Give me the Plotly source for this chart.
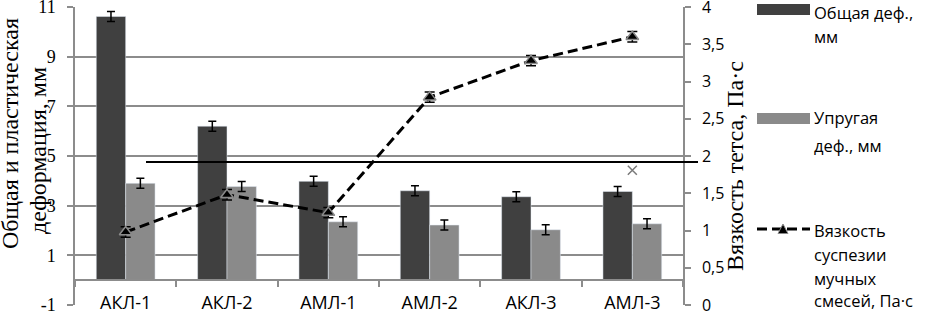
import plotly.graph_objects as go

categories = ["АКЛ-1", "АКЛ-2", "АМЛ-1", "АМЛ-2", "АКЛ-3", "АМЛ-3"]
total_def = [10.62, 6.2, 3.98, 3.6, 3.36, 3.57]
total_err = [0.2, 0.2, 0.2, 0.2, 0.2, 0.2]
elastic_def = [3.9, 3.77, 2.35, 2.22, 2.03, 2.27]
elastic_err = [0.2, 0.2, 0.2, 0.2, 0.2, 0.2]
viscosity = [0.98, 1.48, 1.24, 2.79, 3.28, 3.6]
visc_err = [0.07, 0.07, 0.07, 0.07, 0.07, 0.07]
hline_value = 1.92
x_marker_cat = ["АМЛ-3"]
x_marker_val = [1.81]

left_ticks = [-1, 1, 3, 5, 7, 9, 11]
left_ticktext = ["-1", "1", "3", "5", "7", "9", "11"]
right_ticks = [0, 0.5, 1, 1.5, 2, 2.5, 3, 3.5, 4]
right_ticktext = ["0", "0,5", "1", "1,5", "2", "2,5", "3", "3,5", "4"]

name_total = "Общая деф., мм"
name_elastic = "Упругая деф., мм"
name_visc = "Вязкость суспезии мучных смесей, Па·с"

DARK = "#404040"
LIGHT = "#8a8a8a"
GRID = "#8c8c8c"
SANS = "Open Sans"
SERIF = "Liberation Serif"

W, H = 925, 314
L, R, T, B = 75, 683, 7, 305


def px(x):
    return (x - L) / (R - L)


def py(y):
    return (B - y) / (B - T)


fig = go.Figure()
fig.add_trace(go.Bar(
    x=categories, y=total_def, name=name_total, marker_color=DARK,
    error_y=dict(type="data", array=total_err, color="black", thickness=1.5, width=4),
    showlegend=False,
))
fig.add_trace(go.Bar(
    x=categories, y=elastic_def, name=name_elastic, marker_color=LIGHT,
    error_y=dict(type="data", array=elastic_err, color="black", thickness=1.5, width=4),
    showlegend=False,
))
fig.add_trace(go.Scatter(
    x=categories, y=viscosity, name=name_visc, yaxis="y2", mode="lines+markers",
    line=dict(color="black", width=3, dash="10px,5px"),
    marker=dict(symbol="triangle-up", size=11, color="black", line=dict(color="#8a8a8a", width=1.5)),
    error_y=dict(type="data", array=visc_err, color="black", thickness=1.5, width=5),
    showlegend=False,
))
fig.add_trace(go.Scatter(
    x=x_marker_cat, y=x_marker_val, yaxis="y2", mode="markers",
    marker=dict(symbol="x-thin-open", size=9, color="#7a7a7a", line=dict(color="#7a7a7a", width=1.5)),
    showlegend=False,
))

shapes = [
    dict(type="line", xref="paper", yref="y2", x0=px(146), x1=px(698), y0=hline_value, y1=hline_value,
         line=dict(color="black", width=2)),
    # legend swatches
    dict(type="rect", xref="paper", yref="paper", x0=px(757), x1=px(810), y0=py(15), y1=py(4),
         fillcolor=DARK, line=dict(width=0)),
    dict(type="rect", xref="paper", yref="paper", x0=px(757), x1=px(810), y0=py(124), y1=py(113),
         fillcolor=LIGHT, line=dict(width=0)),
    dict(type="line", xref="paper", yref="paper", x0=px(757), x1=px(810), y0=py(229), y1=py(229),
         line=dict(color="black", width=3, dash="10px,5px")),
    dict(type="path", xref="paper", yref="paper",
         path=f"M {px(778)} {py(233.5)} L {px(788)} {py(233.5)} L {px(783)} {py(224)} Z",
         fillcolor="black", line=dict(color="#8a8a8a", width=1)),
]

annotations = [
    dict(text="Общая и пластическая", xref="paper", yref="paper",
         x=px(10), y=py(134), xanchor="center", yanchor="middle", textangle=-90, showarrow=False,
         font=dict(family=SERIF, size=24, color="black")),
    dict(text="деформация, мм", xref="paper", yref="paper",
         x=px(38), y=py(151), xanchor="center", yanchor="middle", textangle=-90, showarrow=False,
         font=dict(family=SERIF, size=24, color="black")),
    dict(text="Вязкость тетса, Па·с", xref="paper", yref="paper",
         x=px(735), y=py(166), xanchor="center", yanchor="middle", textangle=-90, showarrow=False,
         font=dict(family=SERIF, size=24, color="black")),
]
legend_lines = [
    ("Общая деф.,", 13), ("мм", 36),
    ("Упругая", 118), ("деф., мм", 145),
    ("Вязкость", 230), ("суспезии", 254), ("мучных", 278), ("смесей, Па·с", 300),
]
for txt, yy in legend_lines:
    annotations.append(dict(text=txt, xref="paper", yref="paper", x=px(812), y=py(yy),
                            xanchor="left", yanchor="middle", showarrow=False,
                            font=dict(family=SANS, size=16.5, color="black")))

fig.update_layout(
    width=W, height=H,
    margin=dict(l=L, r=W - R, t=T, b=H - B, pad=0, autoexpand=False),
    plot_bgcolor="white", paper_bgcolor="white",
    barmode="group", bargap=0.42, bargroupgap=0,
    separators=", ",
    shapes=shapes, annotations=annotations,
    xaxis=dict(
        type="category", anchor="free", position=1 / 12, automargin=False,
        showgrid=False, showline=True, linecolor=GRID, linewidth=1.5,
        ticks="outside", tickson="boundaries", ticklen=6, tickcolor=GRID, tickwidth=1.5,
        ticklabelstandoff=6, ticklabeloverflow="allow",
        tickfont=dict(family=SANS, size=18, color="black"),
    ),
    yaxis=dict(
        range=[-1, 11], tickvals=left_ticks, ticktext=left_ticktext, automargin=False,
        showgrid=True, gridcolor=GRID, gridwidth=1.5,
        zeroline=False, showline=True, linecolor=GRID, linewidth=1.5,
        ticks="outside", ticklen=6, tickcolor=GRID, tickwidth=1.5, ticklabelstandoff=8,
        ticklabeloverflow="allow",
        tickfont=dict(family=SERIF, size=18, color="black"),
    ),
    yaxis2=dict(
        overlaying="y", side="right", range=[0, 4], tickvals=right_ticks, ticktext=right_ticktext,
        automargin=False, showgrid=False, zeroline=False, showline=True, linecolor=GRID, linewidth=1.5,
        ticks="outside", ticklen=6, tickcolor=GRID, tickwidth=1.5, ticklabelstandoff=8,
        ticklabeloverflow="allow",
        tickfont=dict(family=SANS, size=16, color="black"),
    ),
    font=dict(family=SANS, color="black"),
)

fig.write_html("out.html", config={"displayModeBar": False},
               post_script="document.body.style.margin='0px';")
